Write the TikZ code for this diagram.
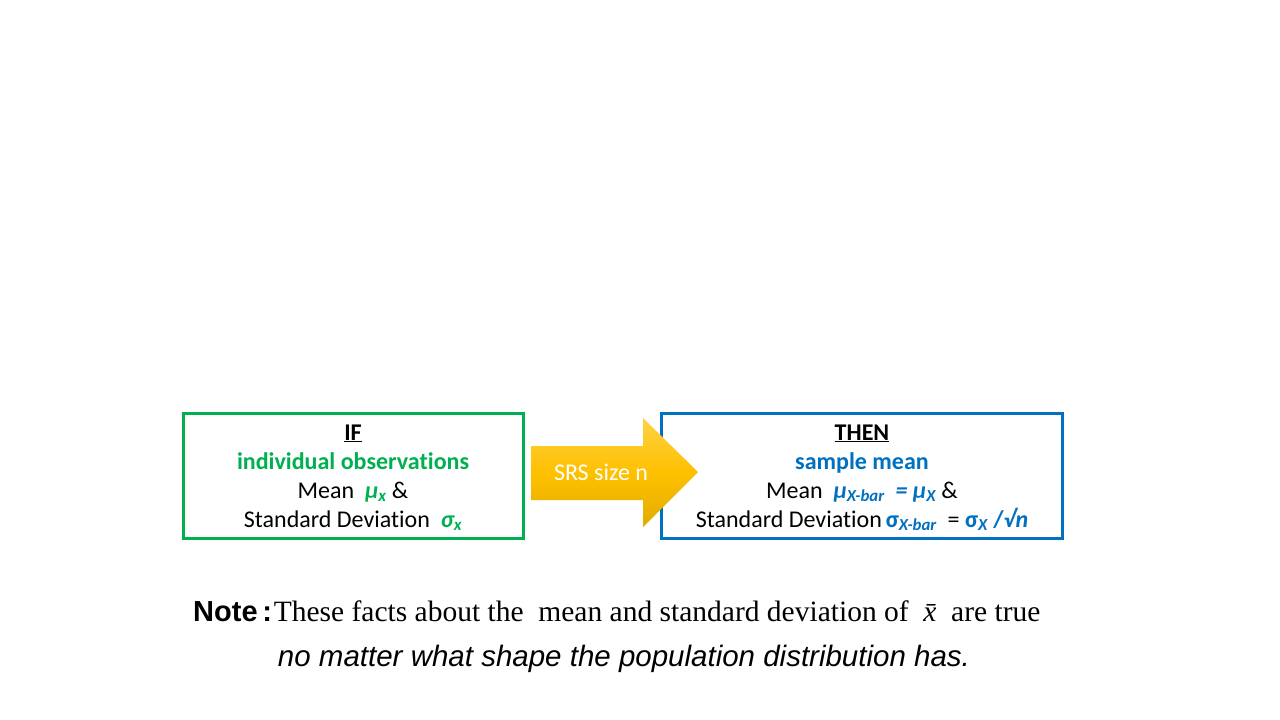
\documentclass[tikz,border=0pt]{standalone}
\usepackage{fontspec}
\setmainfont{Carlito}[Ligatures=NoCommon]
\newfontfamily\arialf{Liberation Sans}
\newfontfamily\timesf{Liberation Serif}
\usetikzlibrary{shadings}
\definecolor{boxgreen}{RGB}{0,176,80}
\definecolor{boxblue}{RGB}{0,112,192}
\definecolor{goldtop}{RGB}{255,210,70}
\definecolor{goldmid}{RGB}{255,192,0}
\definecolor{goldbot}{RGB}{225,172,0}
\tikzset{
  panel/.style={draw, line width=3pt, minimum height=125pt},
  line/.style={anchor=base, inner sep=0pt, font=\fontsize{24}{28}\selectfont},
}
\begin{document}
\begin{tikzpicture}[x=1pt,y=-1pt]
\useasboundingbox[fill=white] (0,0) rectangle (1280,720);
% boxes
\node[panel, draw=boxgreen, minimum width=340pt] (ifbox) at (353,475.5) {};
\node[panel, draw=boxblue, minimum width=401pt] (thenbox) at (861.5,475.5) {};
% arrow
\shade[top color=goldtop, bottom color=goldbot, middle color=goldmid]
  (531,446) -- (643,446) -- (643,418) -- (698,472) -- (643,527) -- (643,500) -- (531,500) -- cycle;
\node[font=\fontsize{24}{28}\selectfont, text=white] (srs) at (601,472) {SRS size n};
% IF box text
\node[line] (if1) at (353,440) {\textbf{\underline{IF}}};
\node[line, text=boxgreen] (if2) at (353,469) {\textbf{individual observations}};
\node[line] (if3) at (353,498) {Mean\ \ {\color{boxgreen}\bfseries\itshape μ\textsubscript{x}} \&};
\node[line] (if4) at (353,527) {Standard Deviation\ \ {\color{boxgreen}\bfseries\itshape σ\textsubscript{x}}};
% THEN box text
\node[line] (th1) at (862,440) {\textbf{\underline{THEN}}};
\node[line, text=boxblue] (th2) at (862,469) {\textbf{sample mean}};
\node[line] (th3) at (862,498) {Mean\ \ {\color{boxblue}\bfseries\itshape μ\textsubscript{X-bar}\ \ = μ\textsubscript{X}} \&};
\node[line] (th4) at (862,527) {Standard Deviation\,{\color{boxblue}\bfseries σ\textsubscript{\itshape X-bar}}\ \ = {\color{boxblue}\bfseries σ\textsubscript{\itshape X} /\itshape √n}};
% note
\node[anchor=base west, inner sep=0pt] (note) at (193,621) {{\arialf\bfseries\fontsize{29}{32}\selectfont Note\,:}\,{\timesf\fontsize{29.5}{32}\selectfont These facts about the\ \ mean and standard deviation of\ \ {\itshape \=x}\ \ are true}};
\node[anchor=base, inner sep=0pt] (note2) at (624,666) {\arialf\itshape\fontsize{29.5}{32}\selectfont no matter what shape the population distribution has.};
\end{tikzpicture}
\end{document}
